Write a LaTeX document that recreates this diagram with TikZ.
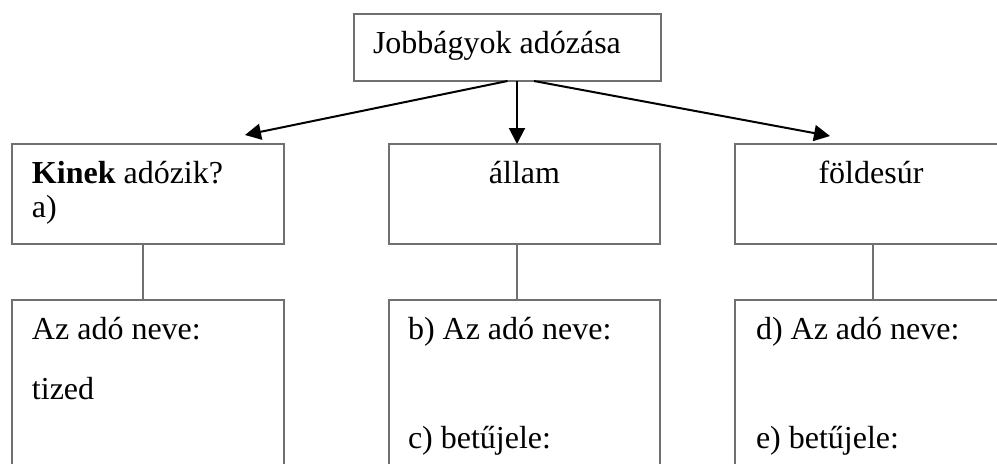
\documentclass[tikz,border=0pt]{standalone}
\usepackage{fontspec}
\setmainfont{Liberation Serif}
\usetikzlibrary{arrows.meta}
\definecolor{boxgray}{RGB}{112,112,112}
\tikzset{
  box/.style={draw=boxgray, line width=1pt, rectangle, inner sep=0pt, outer sep=0pt},
  link/.style={draw=boxgray, line width=1pt},
  arr/.style={draw=black, line width=1pt, -{Triangle[length=8pt,width=8pt]}},
  txt/.style={inner sep=0pt, outer sep=0pt, font=\fontsize{16}{18}\selectfont}
}
\begin{document}
\begin{tikzpicture}[x=0.5pt,y=-0.5pt]
\useasboundingbox (0,0) rectangle (997,463);
\fill[white] (0,0) rectangle (997,463);
\clip (0,0) rectangle (997,463);
% boxes
\node[box, minimum width=153.5pt, minimum height=33.75pt] (top) at (507.5,47.25) {};
\node[box, minimum width=136pt, minimum height=50pt] (kinek) at (148,194) {};
\node[box, minimum width=135.5pt, minimum height=50pt] (allam) at (524.5,194) {};
\node[box, minimum width=136pt, minimum height=50pt] (fold) at (871,194) {};
\node[box, minimum width=136pt, minimum height=110pt] (kb) at (148,410) {};
\node[box, minimum width=135.5pt, minimum height=110pt] (ab) at (524.5,410) {};
\node[box, minimum width=136pt, minimum height=110pt] (fb) at (871,410) {};
% arrow end points
\coordinate (s1) at (top.south);
\coordinate (s2) at ([xshift=4.75pt]top.south);
\coordinate (s3) at ([xshift=13.25pt]top.south);
\coordinate (e1) at ([xshift=48.5pt,yshift=4.5pt]kinek.north);
\coordinate (e2) at ([xshift=-3.75pt]allam.north);
\coordinate (e3) at ([xshift=47.5pt,yshift=4pt]fold.north west);
\draw[arr] (s1) -- (e1);
\draw[arr] (s2) -- (e2);
\draw[arr] (s3) -- (e3);
% vertical links
\draw[link] ([xshift=-2.5pt]kinek.south) -- ([xshift=-2.5pt]kb.north);
\draw[link] ([xshift=-3.75pt]allam.south) -- ([xshift=-3.75pt]ab.north);
\draw[link] ([xshift=1pt]fold.south) -- ([xshift=1pt]fb.north);
% texts
\node[txt, anchor=base west] (t0) at (373,53) {Jobbágyok adózása};
\node[txt, anchor=base west] (t1) at (32,183) {\textbf{Kinek} adózik?};
\node[txt, anchor=base west] (t2) at (32,217) {a)};
\node[txt, anchor=base] (t3) at (524.5,183) {állam};
\node[txt, anchor=base] (t4) at (871,183) {földesúr};
\node[txt, anchor=base west] (t5) at (32,339) {Az adó neve:};
\node[txt, anchor=base west] (t6) at (32,399) {tized};
\node[txt, anchor=base west] (t7) at (408,339) {b) Az adó neve:};
\node[txt, anchor=base west] (t8) at (408,448) {c) betűjele:};
\node[txt, anchor=base west] (t9) at (756,339) {d) Az adó neve:};
\node[txt, anchor=base west] (t10) at (756,448) {e) betűjele:};
\end{tikzpicture}
\end{document}
